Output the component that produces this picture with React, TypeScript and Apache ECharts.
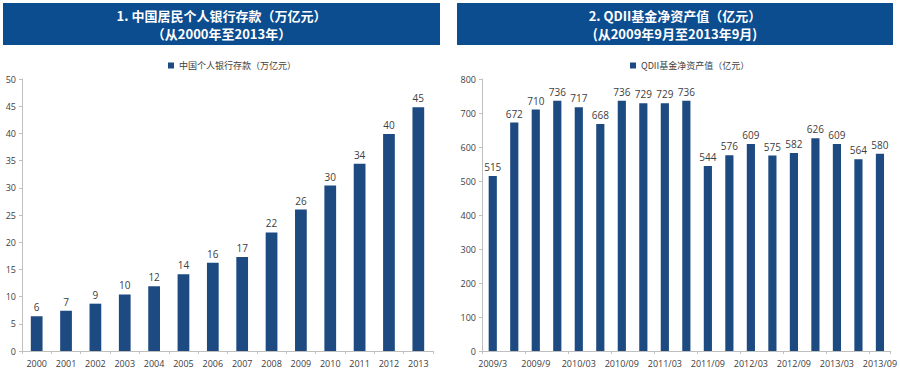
import React, { useEffect, useRef } from "react";
import * as echarts from "echarts";

const years = ["2000","2001","2002","2003","2004","2005","2006","2007","2008","2009","2010","2011","2012","2013"];
const deposits = [6.4, 7.4, 8.7, 10.4, 11.9, 14.1, 16.2, 17.3, 21.8, 26.0, 30.4, 34.4, 39.9, 44.8];
const quarters = ["2009/3","2009/6","2009/9","2009/12","2010/03","2010/06","2010/09","2010/12","2011/03","2011/06","2011/09","2011/12","2012/03","2012/06","2012/09","2012/12","2013/03","2013/06","2013/09"];
const qdii = [515, 672, 710, 736, 717, 668, 736, 729, 729, 736, 544, 576, 609, 575, 582, 626, 609, 564, 580];

const leftTitle = ["1. 中国居民个人银行存款（万亿元）", "（从2000年至2013年）"];
const rightTitle = ["2. QDII基金净资产值（亿元）", "(从2009年9月至2013年9月)"];
const leftSeriesName = "中国个人银行存款（万亿元）";
const rightSeriesName = "QDII基金净资产值（亿元）";

const BAR = "#1d4a80";
const HEAD = "#0b4d8f";
const FONT = "'Noto Sans CJK SC', 'Liberation Sans', sans-serif";

export default function App() {
  const ref = useRef<HTMLDivElement>(null);
  useEffect(() => {
    const chart = echarts.init(ref.current!, null, { renderer: "svg" });
    const axisLabel = { color: "#404040", fontSize: 9, fontFamily: "'Open Sans', sans-serif" };
    const axisLine = { show: true, lineStyle: { color: "#bfbfbf" } };
    const axisTick = { show: true, length: 3, lineStyle: { color: "#bfbfbf" } };
    const titleBox = (x: number, w: number, lines: string[]) => ({
      type: "group",
      children: [
        { type: "rect", shape: { x, y: 3, width: w, height: 42 }, style: { fill: HEAD } },
        { type: "text", x: x + w / 2, y: 15, style: { text: lines[0], fill: "#fff", font: `bold 13px ${FONT}`, align: "center", verticalAlign: "middle" } },
        { type: "text", x: x + w / 2, y: 33, style: { text: lines[1], fill: "#fff", font: `bold 13px ${FONT}`, align: "center", verticalAlign: "middle" } },
      ],
    });
    chart.setOption({
      animation: false,
      backgroundColor: "#fff",
      graphic: [titleBox(3, 437, leftTitle), titleBox(457, 436, rightTitle)],
      legend: [
        { data: [leftSeriesName], left: 163, top: 56, icon: "rect", itemWidth: 6, itemHeight: 6, itemGap: 4, textStyle: { fontSize: 9, color: "#404040", fontFamily: FONT } },
        { data: [rightSeriesName], left: 625, top: 56, icon: "rect", itemWidth: 6, itemHeight: 6, itemGap: 4, textStyle: { fontSize: 9, color: "#404040", fontFamily: FONT } },
      ],
      grid: [
        { left: 22, right: 467, top: 79, bottom: 28, containLabel: false },
        { left: 482, right: 8, top: 79, bottom: 28, containLabel: false },
      ],
      xAxis: [
        { type: "category", gridIndex: 0, data: years, axisLine, axisTick, axisLabel: { ...axisLabel, margin: 8 } },
        { type: "category", gridIndex: 1, data: quarters, axisLine, axisTick: { ...axisTick, interval: 1 }, axisLabel: { ...axisLabel, interval: 1, margin: 8 } },
      ],
      yAxis: [
        { type: "value", gridIndex: 0, min: 0, max: 50, interval: 5, axisLine, axisTick, splitLine: { show: false }, axisLabel: { ...axisLabel, margin: 6 } },
        { type: "value", gridIndex: 1, min: 0, max: 800, interval: 100, axisLine, axisTick, splitLine: { show: false }, axisLabel: { ...axisLabel, margin: 6 } },
      ],
      series: [
        {
          name: leftSeriesName, type: "bar", xAxisIndex: 0, yAxisIndex: 0, data: deposits, barWidth: "40%",
          itemStyle: { color: BAR },
          label: { show: true, position: "top", distance: 4, color: "#404040", fontSize: 10, fontFamily: "'Open Sans', sans-serif", formatter: (p: any) => String(Math.round(p.value)) },
        },
        {
          name: rightSeriesName, type: "bar", xAxisIndex: 1, yAxisIndex: 1, data: qdii, barWidth: "38%",
          itemStyle: { color: BAR },
          label: { show: true, position: "top", distance: 4, color: "#404040", fontSize: 10, fontFamily: "'Open Sans', sans-serif" },
        },
      ],
    });
    return () => chart.dispose();
  }, []);
  return <div ref={ref} style={{ position: "fixed", left: 0, top: 0, width: 900, height: 379 }} />;
}
